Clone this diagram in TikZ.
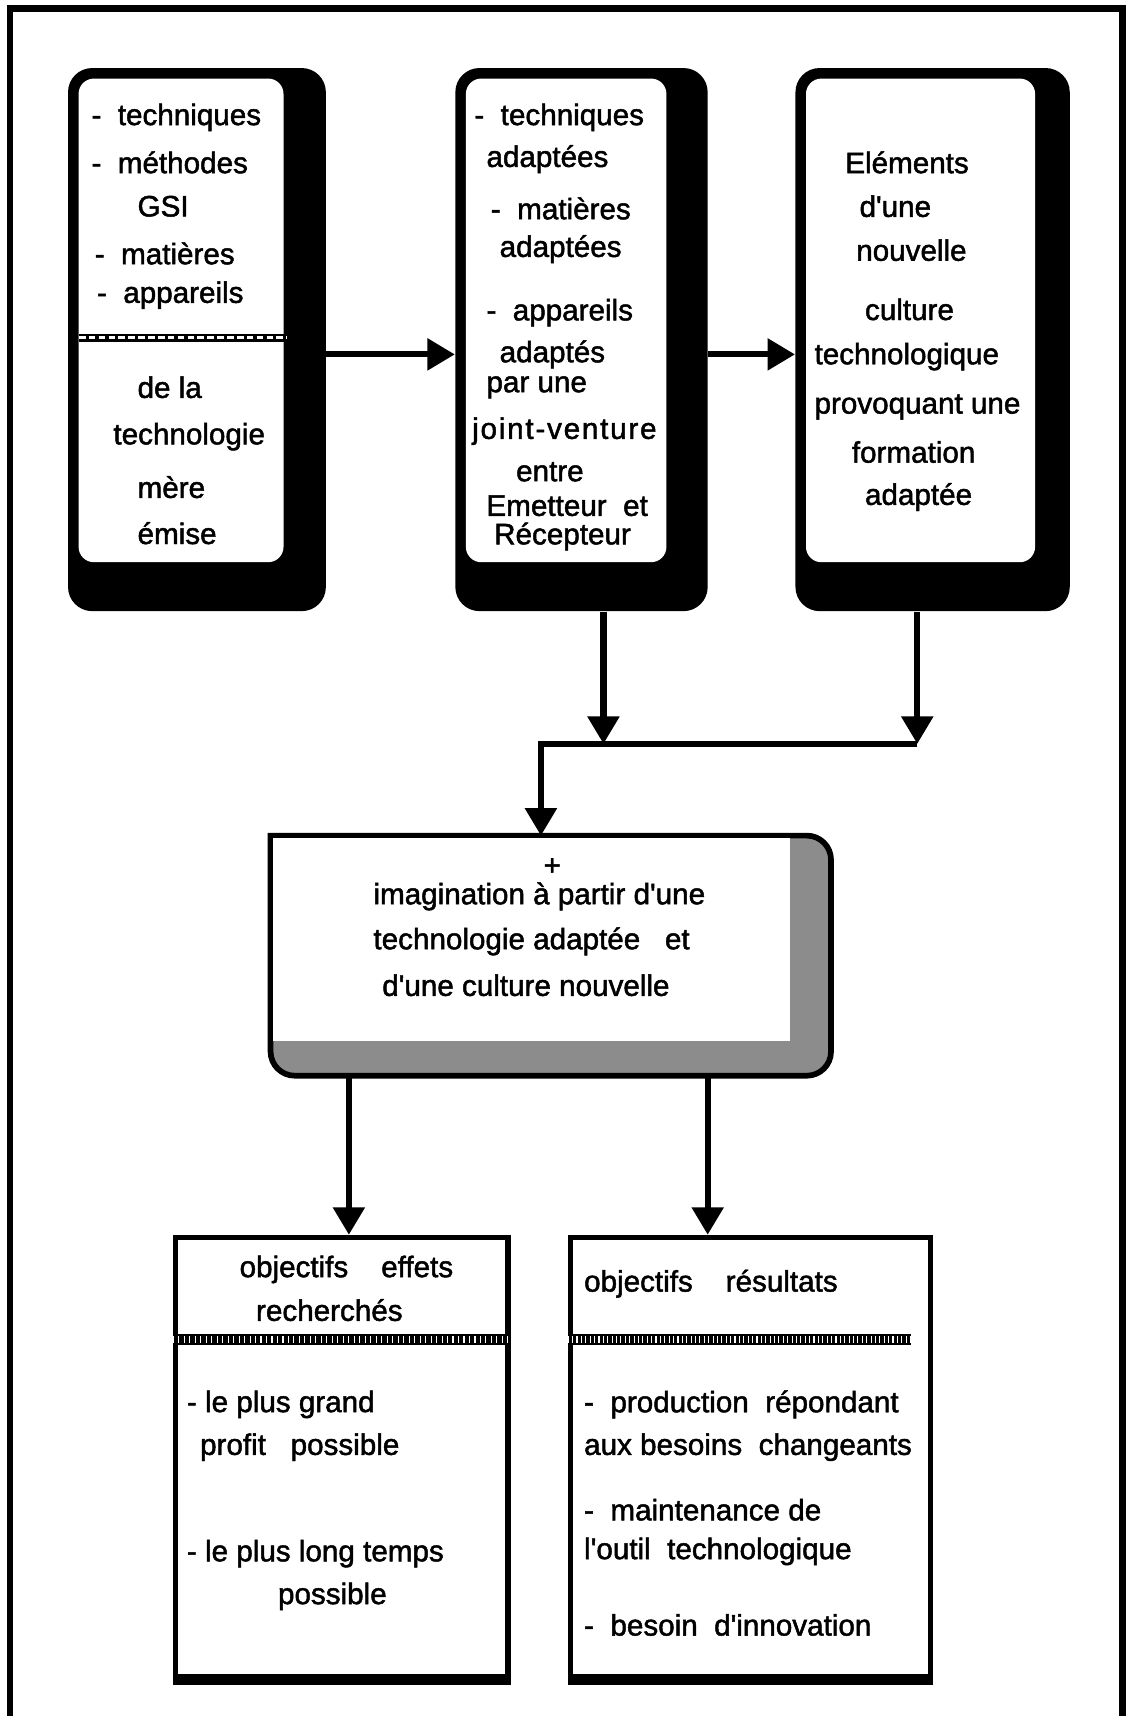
\documentclass[tikz,border=0pt]{standalone}
\usepackage{fontspec}
\setmainfont{Liberation Sans}[Ligatures=TeXOff]
\usetikzlibrary{arrows.meta}

\tikzset{
  bigbox/.style={fill=black, rounded corners=11pt, inner sep=0pt},
  lowbox/.style={draw=black, line width=2.6pt, inner sep=0pt, fill=white},
  txt/.style={anchor=west, inner sep=0pt},
  arr/.style={line width=2.8pt, -{Triangle[length=12.5pt,width=14pt]}},
  band/.style={line width=5pt},
}

\begin{document}
\begin{tikzpicture}[x=0.5pt,y=-0.5pt,font=\fontsize{13.5}{16}\selectfont\addfontfeatures{FakeBold=1.6}]
\useasboundingbox (0,0) rectangle (1030,1564);
% cadre
\draw[line width=3pt] (9,1600) -- (9,8) -- (1023,8) -- (1023,1600);

% blocs du haut
\node[bigbox, minimum width=117.5pt, minimum height=247.5pt] (emise) at (179.5,309.5) {};
\node[bigbox, minimum width=115pt, minimum height=247.5pt] (adapt) at (530,309.5) {};
\node[bigbox, minimum width=125pt, minimum height=247.5pt] (culture) at (850,309.5) {};
\fill[white, rounded corners=7pt] ([shift={(5pt,-5pt)}]emise.north west) rectangle ([shift={(-19.5pt,22.5pt)}]emise.south east);
\fill[white, rounded corners=7pt] ([shift={(5pt,-5pt)}]adapt.north west) rectangle ([shift={(-19pt,22.5pt)}]adapt.south east);
\fill[white, rounded corners=7pt] ([shift={(5pt,-5pt)}]culture.north west) rectangle ([shift={(-16pt,22.5pt)}]culture.south east);
\draw[line width=4pt] (72,308) -- (262,308);
\draw[white, line width=1.4pt, dash pattern=on 3pt off 1.5pt] (72,308) -- (262,308);

\foreach \x/\y/\t [count=\i] in {83/107/{-~~techniques}, 83/148/{-~~méthodes}, 125/188/GSI,
    86/231/{-~~matières}, 88/269/{-~~appareils}, 125/353/{de la}, 103/398/technologie,
    125/444/mère, 125/486/émise}
  \node[txt] (e\i) at (\x,\y) {\t};

\foreach \x/\y/\t [count=\i] in {432/107/{-~~techniques}, 443/145/adaptées, 447/190/{-~~matières},
    455/227/adaptées, 443/285/{-~~appareils}, 455/323/adaptés, 443/353/{par une},
    430/393/{\addfontfeatures{LetterSpace=6}joint-venture}, 470/430/entre,
    443/461/{Emetteur~~et}, 450/489/Récepteur}
  \node[txt] (a\i) at (\x,\y) {\t};

\foreach \x/\y/\t [count=\i] in {770/148/Eléments, 783/188/{d'une}, 780/228/nouvelle,
    788/282/culture, 742/325/technologique, 742/371/{provoquant une}, 776/412/formation,
    788/453/adaptée}
  \node[txt] (c\i) at (\x,\y) {\t};

% bloc central
\node[minimum width=255pt, minimum height=109pt, inner sep=0pt] (imag) at (502,871) {};
\filldraw[fill=black!45, line width=2.6pt] (imag.north west) -- ([xshift=-11pt]imag.north east)
  arc[start angle=90, end angle=0, radius=11pt] -- ([yshift=11pt]imag.south east)
  arc[start angle=0, end angle=-90, radius=11pt] -- ([xshift=11pt]imag.south west)
  arc[start angle=270, end angle=180, radius=11pt] -- cycle;
\fill[white] ([shift={(1.3pt,-1.3pt)}]imag.north west) rectangle ([shift={(-18.5pt,16pt)}]imag.south east);
\node[txt] (plus) at (495,790) {+};
\node[txt] (i1) at (340,817) {imagination à partir d'une};
\node[txt] (i2) at (340,858) {technologie adaptée~~~et};
\node[txt] (i3) at (348,898) {d'une culture nouvelle};

% blocs du bas
\node[lowbox, minimum width=151.5pt, minimum height=200pt] (effets) at (311.5,1328) {};
\node[lowbox, minimum width=164pt, minimum height=200pt] (resultats) at (684,1328) {};
\draw[line width=3.6pt] ([yshift=-0.6pt]effets.south west) -- ([yshift=-0.6pt]effets.south east);
\draw[line width=3.6pt] ([yshift=-0.6pt]resultats.south west) -- ([yshift=-0.6pt]resultats.south east);
\coordinate (hdr) at (0,1221);
\draw[band] (effets.west |- hdr) -- (effets.east |- hdr);
\draw[white, line width=3pt, dash pattern=on 0.5pt off 2pt] (effets.west |- hdr) -- (effets.east |- hdr);
\draw[band] (resultats.west |- hdr) -- ([xshift=-10pt]resultats.east |- hdr);
\draw[white, line width=3pt, dash pattern=on 0.5pt off 1.5pt] (resultats.west |- hdr) -- ([xshift=-10pt]resultats.east |- hdr);

\foreach \x/\y/\t [count=\i] in {218/1157/{objectifs~~~~effets}, 233/1194/recherchés,
    170/1280/{- le plus grand}, 182/1319/{profit~~~possible}, 170/1416/{- le plus long temps},
    253/1455/possible}
  \node[txt] (o\i) at (\x,\y) {\t};

\foreach \x/\y/\t [count=\i] in {532/1170/{objectifs~~~~résultats}, 532/1280/{-~~production~~répondant},
    532/1319/{aux besoins~~changeants}, 532/1376/{-~~maintenance de},
    532/1414/{l'outil~~technologique}, 532/1481/{-~~besoin~~d'innovation}}
  \node[txt] (r\i) at (\x,\y) {\t};

% fleches
\draw[arr] ([yshift=-6.75pt]emise.east) -- ([yshift=-6.75pt]adapt.west);
\draw[arr] ([yshift=-6.75pt]adapt.east) -- ([yshift=-6.75pt]culture.west);
\coordinate (join) at (493,678);
\draw[arr] ([xshift=10pt]adapt.south) -- ([xshift=10pt]adapt.south |- join);
\draw[arr] ([xshift=-7pt]culture.south) -- ([xshift=-7pt]culture.south |- join);
\draw[arr] ([xshift=-7pt]culture.south |- join) -- (join) -- (join |- imag.north);
\draw[arr] ([xshift=-92pt]imag.south) -- ([xshift=3.25pt]effets.north);
\draw[arr] ([xshift=71.5pt]imag.south) -- ([xshift=-19.5pt]resultats.north);
\end{tikzpicture}
\end{document}
